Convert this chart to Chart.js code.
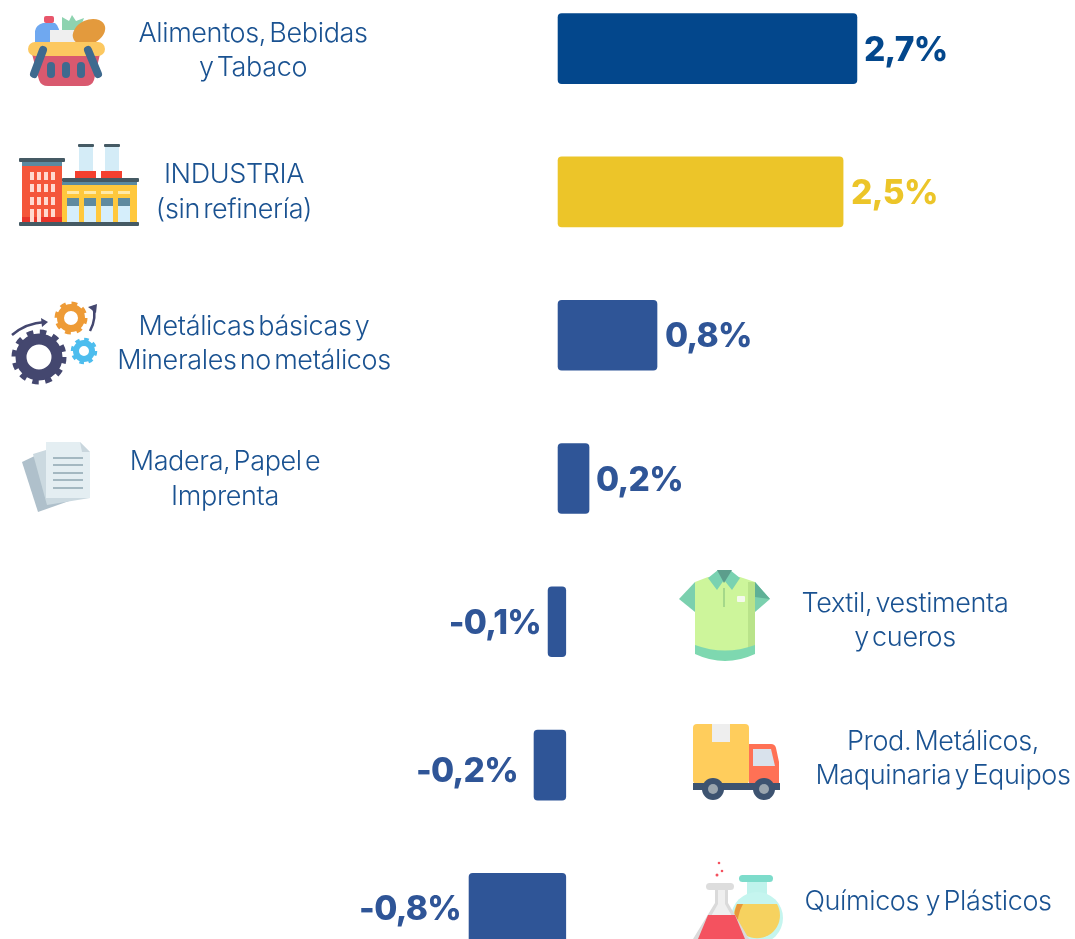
<!DOCTYPE html>
<html>
<head>
<meta charset="utf-8">
<title>Industria</title>
<script src="https://cdn.jsdelivr.net/npm/chart.js@4"></script>
<style>
    html, body { margin: 0; padding: 0; background: #fff; overflow: hidden; }
    #wrap { position: relative; width: 1075px; height: 939px; overflow: hidden; }
    #icons { position: absolute; left: 0; top: 0; }
    #chart { position: absolute; left: 0; top: -23px; }
</style>
</head>
<body>
<div id="wrap">
<svg id="icons" width="1075" height="939" viewBox="0 0 1075 939">
    <!-- basket -->
    <rect x="44" y="16" width="10" height="7" rx="2" fill="#E8566B"/>
    <path d="M35 42 V31 Q36 25 43 23 H55 Q60 26 61 42 Z" fill="#6FA8F0"/>
    <path d="M62 32 L62 17 L69 21 L72 15 L76 21 L84 18 L79 32 Z" fill="#8ED3B0"/>
    <rect x="50" y="30" width="27" height="13" fill="#EFEFEF"/>
    <ellipse cx="89" cy="32" rx="17" ry="12" transform="rotate(-25 89 32)" fill="#E39A3D"/>
    <path d="M32 54 H100 L94 80 Q92 86 85 86 H48 Q41 86 39 80 Z" fill="#D9596F"/>
    <rect x="28" y="42" width="77" height="14" rx="7" fill="#FCC860"/>
    <rect x="47" y="62" width="8" height="16" rx="4" fill="#3F6A8F"/>
    <rect x="62" y="62" width="8" height="16" rx="4" fill="#3F6A8F"/>
    <rect x="77" y="62" width="8" height="16" rx="4" fill="#3F6A8F"/>
    <path d="M43 50 L34 74 M88 50 L98 74" stroke="#3F6A8F" stroke-width="8" stroke-linecap="round"/>

    <!-- factory -->
    <rect x="79" y="147" width="14" height="24" fill="#D4ECF7"/>
    <rect x="105" y="147" width="14" height="24" fill="#D4ECF7"/>
    <rect x="78" y="144" width="16" height="3" rx="1" fill="#455A64"/>
    <rect x="104" y="144" width="16" height="3" rx="1" fill="#455A64"/>
    <rect x="75" y="171" width="21" height="7" fill="#F4402F"/>
    <rect x="101" y="171" width="21" height="7" fill="#F4402F"/>
    <rect x="22" y="162" width="40" height="60" fill="#F4563A"/>
    <rect x="22" y="162" width="40" height="4" fill="#5B8AA0"/>
    <rect x="22" y="217" width="40" height="5" fill="#E8342A"/>
    <rect x="19" y="158" width="46" height="4" rx="1" fill="#455A64"/>
    <g fill="#FFD9CF">
        <rect x="30" y="172" width="4" height="8"/><rect x="37" y="172" width="4" height="8"/><rect x="44" y="172" width="4" height="8"/><rect x="51" y="172" width="4" height="8"/>
        <rect x="30" y="184" width="4" height="8"/><rect x="37" y="184" width="4" height="8"/><rect x="44" y="184" width="4" height="8"/><rect x="51" y="184" width="4" height="8"/>
        <rect x="30" y="197" width="4" height="8"/><rect x="37" y="197" width="4" height="8"/><rect x="44" y="197" width="4" height="8"/><rect x="51" y="197" width="4" height="8"/>
        <rect x="30" y="209" width="4" height="13"/><rect x="37" y="209" width="4" height="13"/><rect x="44" y="209" width="4" height="8"/><rect x="51" y="209" width="4" height="8"/>
    </g>
    <rect x="62" y="182" width="75" height="40" fill="#FFC83D"/>
    <rect x="62" y="182" width="75" height="3" fill="#5B8AA0"/>
    <rect x="62" y="178" width="77" height="4" rx="1" fill="#455A64"/>
    <g fill="#FFE9A8">
        <rect x="67" y="191" width="12" height="3"/><rect x="84" y="191" width="12" height="3"/><rect x="101" y="191" width="12" height="3"/><rect x="118" y="191" width="12" height="3"/>
    </g>
    <g fill="#D5EEFB">
        <rect x="67" y="198" width="12" height="24"/><rect x="84" y="198" width="12" height="24"/><rect x="101" y="198" width="12" height="24"/><rect x="118" y="198" width="12" height="24"/>
    </g>
    <g fill="#5F8A9F">
        <rect x="67" y="198" width="12" height="8"/><rect x="84" y="198" width="12" height="8"/><rect x="101" y="198" width="12" height="8"/><rect x="118" y="198" width="12" height="8"/>
    </g>
    <rect x="19" y="222" width="120" height="4" rx="1" fill="#455A64"/>

    <!-- gears -->
    <g fill="none">
        <circle cx="39" cy="357" r="18" stroke="#44476F" stroke-width="11"/>
        <circle cx="39" cy="357" r="25" stroke="#44476F" stroke-width="5" stroke-dasharray="6.5 6.6"/>
        <circle cx="71" cy="318" r="10.5" stroke="#EE9B36" stroke-width="7"/>
        <circle cx="71" cy="318" r="14.5" stroke="#EE9B36" stroke-width="4" stroke-dasharray="5.7 5.7"/>
        <circle cx="84" cy="351" r="8" stroke="#4DBDEE" stroke-width="6"/>
        <circle cx="84" cy="351" r="11.5" stroke="#4DBDEE" stroke-width="3.5" stroke-dasharray="4.5 4.5"/>
        <path d="M12 335 Q26 323 45 322" stroke="#44476F" stroke-width="2.5"/>
        <path d="M90 331 Q97 318 93 306" stroke="#44476F" stroke-width="2.5"/>
    </g>
    <path d="M41 318 L48 322 L42 327 Z M88 307 L97 304 L96 313 Z" fill="#44476F"/>

    <!-- papers -->
    <polygon points="22,462 43,452 72,500 38,512" fill="#AFC0CB"/>
    <polygon points="33,454 46,450 90,498 47,505" fill="#CBD9E0"/>
    <polygon points="46,442 80,442 90,452 90,498 46,498" fill="#E4EEF2"/>
    <polygon points="80,442 90,452 82,452" fill="#C9D6DD"/>
    <g stroke="#8FA6B1" stroke-width="1.5">
        <line x1="53" y1="458" x2="83" y2="458"/><line x1="53" y1="465" x2="83" y2="465"/><line x1="53" y1="473" x2="83" y2="473"/><line x1="53" y1="480" x2="83" y2="480"/><line x1="53" y1="488" x2="83" y2="488"/>
    </g>

    <!-- shirt -->
    <polygon points="695,582 679,599 695,612" fill="#7BD0AE"/>
    <polygon points="755,582 770,599 755,612" fill="#7BD0AE"/>
    <polygon points="755,582 770,599 755,597" fill="#5FB096"/>
    <path d="M695 582 L708 577 H740 L755 582 V652 Q725 666 695 652 Z" fill="#CDF59B"/>
    <rect x="748" y="582" width="7" height="68" fill="#B9E38A"/>
    <path d="M695 645 Q725 656 755 645 V654 Q725 668 695 654 Z" fill="#7ED8B0"/>
    <polygon points="708,578 718,570 730,570 740,578 732,590 724,580 717,590" fill="#79D2B1"/>
    <polygon points="717,570 732,570 724,583" fill="#5C9E8C"/>
    <line x1="724" y1="588" x2="724" y2="607" stroke="#A5D88A" stroke-width="2"/>
    <rect x="737" y="596" width="8" height="6" rx="1" fill="#F4F9EC"/>

    <!-- truck -->
    <rect x="693" y="724" width="56" height="60" rx="4" fill="#FFCD5C"/>
    <rect x="712" y="724" width="18" height="18" fill="#EEEEEE"/>
    <path d="M749 744 H771 Q775 744 776 748 L779 762 V784 H749 Z" fill="#FF7155"/>
    <polygon points="753,749 771,749 775,766 753,766" fill="#D9E2EC"/>
    <rect x="693" y="783" width="87" height="7" fill="#3D5370"/>
    <circle cx="713" cy="789" r="11" fill="#3D5370"/>
    <circle cx="713" cy="789" r="5" fill="#9AA5AE"/>
    <circle cx="764" cy="789" r="11" fill="#3D5370"/>
    <circle cx="764" cy="789" r="5" fill="#9AA5AE"/>

    <!-- flasks -->
    <rect x="747" y="880" width="20" height="24" fill="#BFF3EC"/>
    <circle cx="757" cy="918" r="26" fill="#C5F5EF"/>
    <path d="M737 904 H777 A23 23 0 1 1 737 904 Z" fill="#F6D25F"/>
    <path d="M737 904 H743 Q736 916 738 932 Q731 918 737 904 Z" fill="#E8973A"/>
    <rect x="739" y="875" width="34" height="7" rx="3.5" fill="#7DDCCB"/>
    <polygon points="715,890 728,890 728,903 749,939 693,939 715,903" fill="#DADADA"/>
    <polygon points="718,890 725,890 725,904 741,932 702,932 718,904" fill="#EFEFEF"/>
    <polygon points="708,915 735,915 745,939 698,939" fill="#F4525F"/>
    <rect x="706" y="883" width="28" height="7" rx="3.5" fill="#DDDDDD"/>
    <g fill="#F4525F">
        <circle cx="719" cy="863" r="1.3"/><circle cx="722" cy="871" r="1.3"/><circle cx="717" cy="875" r="1.5"/>
    </g>
</svg>
<canvas id="chart" width="1075" height="1003"></canvas>
</div>

<script>
const categories = ["Alimentos, Bebidas y Tabaco", "INDUSTRIA (sin refinería)", "Metálicas básicas y Minerales no metálicos",
    "Madera, Papel e Imprenta", "Textil, vestimenta y cueros", "Prod. Metálicos, Maquinaria y Equipos", "Químicos y Plásticos"];

// printed values
const values = [2.7, 2.5, 0.8, 0.2, -0.1, -0.2, -0.8];

// the bars in the picture are not all to one scale and overlap around zero,
// so their ends are read off as drawn, in % units
const barStart = [0, 0, 0, 0, 0.07, 0.07, 0.07];
const barEnd = [2.7, 2.575, 0.894, 0.28, -0.09, -0.217, -0.804];

const barColors = ["#03478C", "#ECC529", "#2F5597", "#2F5597", "#2F5597", "#2F5597", "#2F5597"];
const labelGaps = [7, 8, 8, 7, 7, 16, 8];
const labelDrop = [2, 2, 2, 2, 2, 7, 2];

const labelLines = [
    ["Alimentos, Bebidas", "y Tabaco"],
    ["INDUSTRIA", "(sin refinería)"],
    ["Metálicas básicas y", "Minerales no metálicos"],
    ["Madera, Papel e", "Imprenta"],
    ["Textil, vestimenta", "y cueros"],
    ["Prod. Metálicos,", "Maquinaria y Equipos"],
    ["Químicos  y Plásticos"]
];
const labelCenterX = [253, 234, 254, 225, 905, 943, 928];
const labelLineY = [[34, 68], [175, 210], [327, 361], [462, 497], [604, 638], [742, 776], [902]];

const canvasTop = 23;
const textColor = "#1A5291";

const textPlugin = {
    id: "textPlugin",
    afterDatasetsDraw(chart) {
        const ctx = chart.ctx;
        const bars = chart.getDatasetMeta(0).data;
        ctx.save();
        ctx.textBaseline = "middle";

        // value next to each bar
        ctx.font = "800 33.5px Inter";
        ctx.letterSpacing = "-0.7px";
        values.forEach((v, i) => {
            const text = v.toFixed(1).replace(".", ",") + "%";
            ctx.fillStyle = barColors[i];
            const tip = bars[i].x;
            if (v >= 0) {
                ctx.textAlign = "left";
                ctx.fillText(text, tip + labelGaps[i], bars[i].y + labelDrop[i]);
            } else {
                ctx.textAlign = "right";
                ctx.fillText(text, tip - labelGaps[i], bars[i].y + labelDrop[i]);
            }
        });

        // category names
        ctx.font = "300 27px Inter";
        ctx.letterSpacing = "-0.36px";
        ctx.wordSpacing = "-4px";
        ctx.textAlign = "center";
        ctx.fillStyle = textColor;
        labelLines.forEach((lines, i) => {
            lines.forEach((line, j) => {
                ctx.fillText(line, labelCenterX[i], labelLineY[i][j] + canvasTop);
            });
        });
        ctx.restore();
    }
};

new Chart(document.getElementById("chart").getContext("2d"), {
    type: "bar",
    data: {
        labels: categories,
        datasets: [{
            data: barStart.map((s, i) => [s, barEnd[i]]),
            backgroundColor: barColors,
            borderRadius: 4,
            borderSkipped: false,
            barThickness: 70
        }]
    },
    options: {
        indexAxis: "y",
        responsive: false,
        animation: false,
        layout: { padding: 0 },
        plugins: { legend: { display: false }, tooltip: { enabled: false } },
        scales: {
            x: { display: false, min: -5.041, max: 4.67 },
            y: { display: false }
        }
    },
    plugins: [textPlugin]
});
</script>
</body>
</html>
